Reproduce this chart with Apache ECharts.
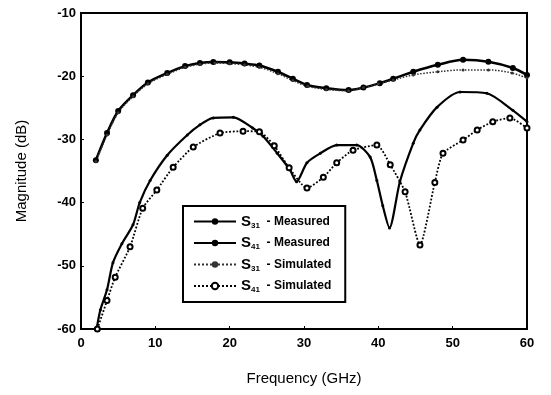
<!DOCTYPE html>
<html>
<head>
<meta charset="utf-8">
<script src="https://cdn.jsdelivr.net/npm/echarts@6/dist/echarts.min.js"></script>
<style>
  html, body { margin: 0; padding: 0; background: #fff; }
  #chart { width: 551px; height: 395px; }
</style>
</head>
<body>
<div id="chart"></div>
<script>
// S31 measured
const s31MeasFreq = [2, 3.5, 5, 7, 9, 11.6, 14, 16, 17.8, 20, 22, 24, 26.5, 28.5, 30.4, 33, 36, 38, 40.2, 42, 44.7, 48, 51.4, 54.8, 58.1, 60]
const s31MeasVal = [-33.3, -29, -25.5, -23, -21, -19.5, -18.4, -17.9, -17.75, -17.8, -18, -18.3, -19.3, -20.4, -21.4, -21.9, -22.2, -21.8, -21.1, -20.4, -19.3, -18.2, -17.4, -17.7, -18.7, -19.8]

// S41 measured
const s41MeasFreq = [2.1, 2.6, 3.5, 4.3, 5.5, 7, 7.9, 9.3, 11.6, 14.3, 16, 17.8, 20.5, 23.1, 24.5, 26.4, 28.1, 29, 30.4, 32.2, 34.4, 37.1, 38.9, 39.8, 40.6, 41.5, 42.9, 44.7, 45.6, 47.9, 51, 54.6, 58.1, 60]
const s41MeasVal = [-60, -57, -53.8, -49.5, -46.5, -43.5, -40, -36.5, -32.5, -29.3, -27.7, -26.6, -26.5, -28.2, -29.5, -32.2, -34.8, -36.7, -33.7, -32.2, -30.9, -30.9, -32.8, -36.5, -40.5, -44, -36.7, -30.6, -28.5, -24.9, -22.5, -22.7, -25.4, -27.2]

// S31 simulated
const s31SimFreq = [2, 3.5, 5, 7, 9, 11.6, 14, 16, 18, 20, 22, 24, 26.5, 28.5, 30.5, 33, 36, 38, 40, 42, 44.7, 48, 51.4, 54.8, 58, 60]
const s31SimVal = [-33.5, -29.3, -25.8, -23.2, -21.2, -19.7, -18.6, -18.1, -17.9, -18, -18.2, -18.6, -19.6, -20.7, -21.6, -22.1, -22.3, -21.8, -21.2, -20.6, -19.8, -19.3, -19.0, -19.0, -19.5, -20.3]

// S41 simulated
const s41SimFreq = [2.2, 3.5, 4.6, 6.6, 8.3, 10.2, 12.4, 15.1, 18.7, 21.8, 24, 26, 28, 30.4, 32.6, 34.4, 36.6, 39.8, 41.6, 43.6, 45.6, 47.6, 48.7, 51.4, 53.3, 55.4, 57.7, 60]
const s41SimVal = [-60, -55.5, -51.8, -47, -40.9, -38, -34.4, -31.2, -29, -28.7, -28.8, -31, -34.5, -37.7, -36, -33.7, -31.7, -30.9, -34, -38.3, -46.7, -36.8, -32.2, -30.1, -28.5, -27.2, -26.6, -28.2]

const legendNames = ['S31 - Measured', 'S41 - Measured', 'S31 - Simulated', 'S41 - Simulated']

const pairs = (xs, ys) => xs.map((x, i) => [x, ys[i]])

const font = 'Liberation Sans, Arial, sans-serif'

let chart = echarts.init(document.getElementById('chart'))

const option = {
  backgroundColor: '#fff',
  animation: false,
  grid: {
    left: 81,
    right: 24,
    top: 13,
    bottom: 66,
    show: true,
    borderColor: '#000',
    borderWidth: 2
  },
  legend: {
    data: legendNames,
    orient: 'vertical',
    left: 183,
    top: 206,
    width: 172,
    padding: [8, 14, 8, 10],
    itemGap: 6,
    itemWidth: 42,
    itemHeight: 8,
    backgroundColor: '#fff',
    borderColor: '#000',
    borderWidth: 2,
    formatter(name) {
      let parts = name.split(' - ')
      return '{s|S}{sub|' + parts[0].slice(1) + '}{t|  - ' + parts[1] + '}'
    },
    textStyle: {
      color: '#000',
      rich: {
        s: { fontSize: 15, fontFamily: font, fontWeight: 'bold', color: '#000' },
        sub: { fontSize: 8, fontFamily: font, fontWeight: 'bold', color: '#000', verticalAlign: 'bottom', padding: [8, 0, 0, 0] },
        t: { fontSize: 12, fontFamily: font, fontWeight: 'bold', color: '#000' }
      }
    }
  },
  xAxis: {
    type: 'value',
    min: 0,
    max: 60,
    interval: 10,
    name: 'Frequency (GHz)',
    nameLocation: 'middle',
    nameGap: 42,
    nameTextStyle: { fontSize: 15, fontFamily: font, color: '#000' },
    axisLine: { show: true, onZero: false, lineStyle: { color: '#000', width: 2 } },
    axisTick: { show: true, inside: true, length: 3, lineStyle: { color: '#000' } },
    axisLabel: { fontSize: 13, fontFamily: font, fontWeight: 'bold', color: '#000', margin: 8 },
    splitLine: { show: false }
  },
  yAxis: {
    type: 'value',
    min: -60,
    max: -10,
    interval: 10,
    name: 'Magnitude (dB)',
    nameLocation: 'middle',
    nameGap: 52,
    nameTextStyle: { fontSize: 15, fontFamily: font, color: '#000' },
    axisLine: { show: true, onZero: false, lineStyle: { color: '#000', width: 2 } },
    axisTick: { show: true, inside: true, length: 3, lineStyle: { color: '#000' } },
    axisLabel: { fontSize: 13, fontFamily: font, fontWeight: 'bold', color: '#000', margin: 5 },
    splitLine: { show: false }
  },
  series: [
    {
      name: legendNames[0],
      type: 'line',
      data: pairs(s31MeasFreq, s31MeasVal),
      smooth: 0.3,
      symbol: 'circle',
      symbolSize: 6,
      showAllSymbol: true,
      itemStyle: { color: '#000' },
      lineStyle: { color: '#000', width: 2.5 }
    },
    {
      name: legendNames[1],
      type: 'line',
      data: pairs(s41MeasFreq, s41MeasVal),
      smooth: 0.25,
      symbol: 'circle',
      symbolSize: 3,
      showAllSymbol: true,
      itemStyle: { color: '#000' },
      lineStyle: { color: '#000', width: 2.2 }
    },
    {
      name: legendNames[2],
      type: 'line',
      data: pairs(s31SimFreq, s31SimVal),
      smooth: 0.3,
      symbol: 'circle',
      symbolSize: 3,
      showAllSymbol: true,
      itemStyle: { color: '#333' },
      lineStyle: { color: '#333', width: 1.5, type: 'dotted' }
    },
    {
      name: legendNames[3],
      type: 'line',
      data: pairs(s41SimFreq, s41SimVal),
      smooth: 0.2,
      symbol: 'emptyCircle',
      symbolSize: 5,
      showAllSymbol: true,
      itemStyle: { color: '#000', borderWidth: 1.5 },
      lineStyle: { color: '#000', width: 1.8, type: 'dotted' }
    }
  ]
}

chart.setOption(option)
</script>
</body>
</html>
